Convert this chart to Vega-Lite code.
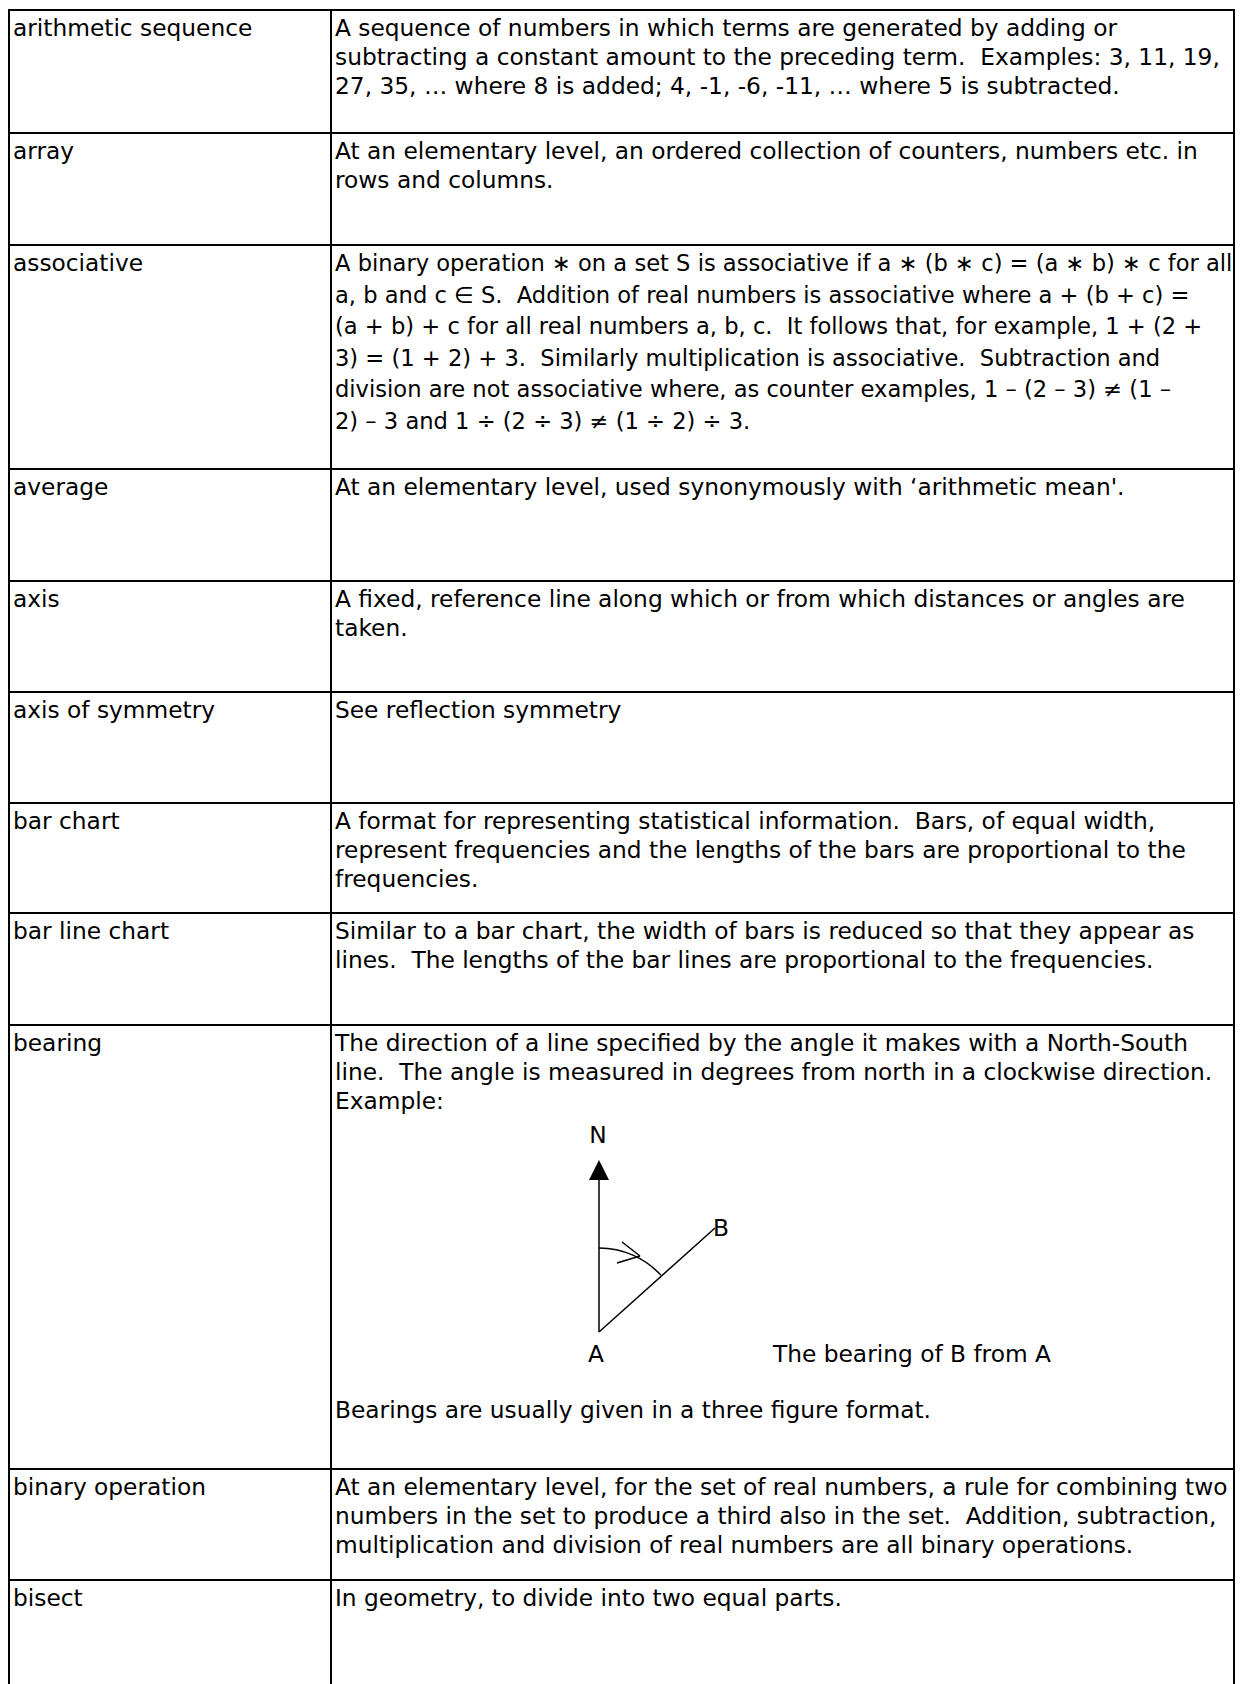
{
  "$schema": "https://vega.github.io/schema/vega-lite/v6.json",
  "width": 1242,
  "height": 1684,
  "padding": 0,
  "autosize": {"type": "none"},
  "background": "white",
  "config": {
    "view": {"stroke": null},
    "text": {"font": "DejaVu Sans", "fontSize": 23.3, "color": "black"}
  },
  "datasets": {
    "entries": [
      {"term": "arithmetic sequence", "top": 10, "definition": "A sequence of numbers in which terms are generated by adding or\nsubtracting a constant amount to the preceding term.\u00a0 Examples: 3, 11, 19,\n27, 35, … where 8 is added; 4, -1, -6, -11, … where 5 is subtracted."},
      {"term": "array", "top": 133, "definition": "At an elementary level, an ordered collection of counters, numbers etc. in\nrows and columns."},
      {"term": "associative", "top": 245, "definition": "A binary operation ∗ on a set S is associative if a ∗ (b ∗ c) = (a ∗ b) ∗ c for all\na, b and c ∈ S.\u00a0 Addition of real numbers is associative where a + (b + c) =\n(a + b) + c for all real numbers a, b, c.\u00a0 It follows that, for example, 1 + (2 +\n3) = (1 + 2) + 3.\u00a0 Similarly multiplication is associative.\u00a0 Subtraction and\ndivision are not associative where, as counter examples, 1 – (2 – 3) ≠ (1 –\n2) – 3 and 1 ÷ (2 ÷ 3) ≠ (1 ÷ 2) ÷ 3."},
      {"term": "average", "top": 469, "definition": "At an elementary level, used synonymously with ‘arithmetic mean'."},
      {"term": "axis", "top": 581, "definition": "A fixed, reference line along which or from which distances or angles are\ntaken."},
      {"term": "axis of symmetry", "top": 692, "definition": "See reflection symmetry"},
      {"term": "bar chart", "top": 803, "definition": "A format for representing statistical information.\u00a0 Bars, of equal width,\nrepresent frequencies and the lengths of the bars are proportional to the\nfrequencies."},
      {"term": "bar line chart", "top": 913, "definition": "Similar to a bar chart, the width of bars is reduced so that they appear as\nlines.\u00a0 The lengths of the bar lines are proportional to the frequencies."},
      {"term": "bearing", "top": 1025, "definition": "The direction of a line specified by the angle it makes with a North-South\nline.\u00a0 The angle is measured in degrees from north in a clockwise direction.\nExample:"},
      {"term": "binary operation", "top": 1469, "definition": "At an elementary level, for the set of real numbers, a rule for combining two\nnumbers in the set to produce a third also in the set.\u00a0 Addition, subtraction,\nmultiplication and division of real numbers are all binary operations."},
      {"term": "bisect", "top": 1580, "definition": "In geometry, to divide into two equal parts."}
    ],
    "columns": [{"x": 9}, {"x": 331}, {"x": 1234}],
    "diagramLines": [
      {"x1": 599, "y1": 1332, "x2": 599, "y2": 1178},
      {"x1": 599, "y1": 1332, "x2": 715, "y2": 1228},
      {"x1": 622, "y1": 1242, "x2": 640, "y2": 1256},
      {"x1": 617, "y1": 1263, "x2": 640, "y2": 1256}
    ],
    "diagramPoints": [{"x": 599, "y": 1332, "part": "arc"}],
    "arrowHead": [{"x": 599, "y": 1170}],
    "centerLabels": [
      {"x": 598, "y": 1143, "label": "N"},
      {"x": 596, "y": 1362, "label": "A"},
      {"x": 721, "y": 1236, "label": "B"}
    ],
    "leftLabels": [
      {"x": 773, "y": 1362, "label": "The bearing of B from A"},
      {"x": 335, "y": 1418, "label": "Bearings are usually given in a three figure format."}
    ]
  },
  "layer": [
    {
      "data": {"name": "columns"},
      "mark": {"type": "rule", "strokeWidth": 2, "color": "black"},
      "encoding": {
        "x": {"field": "x", "type": "quantitative", "scale": {"domain": [0, 1242], "range": [0, 1242], "nice": false, "zero": false}, "axis": null},
        "y": {"datum": 9, "type": "quantitative", "scale": {"domain": [0, 1684], "range": [0, 1684], "nice": false, "zero": false}, "axis": null},
        "y2": {"datum": 1684}
      }
    },
    {
      "data": {"name": "entries"},
      "mark": {"type": "rule", "strokeWidth": 2, "color": "black"},
      "encoding": {
        "x": {"datum": 8, "type": "quantitative"},
        "x2": {"datum": 1235},
        "y": {"field": "top", "type": "quantitative"}
      }
    },
    {
      "data": {"name": "entries"},
      "mark": {"type": "text", "align": "left", "baseline": "alphabetic", "dx": 4, "dy": 25.5},
      "encoding": {
        "x": {"datum": 9, "type": "quantitative"},
        "y": {"field": "top", "type": "quantitative"},
        "text": {"field": "term"}
      }
    },
    {
      "data": {"name": "entries"},
      "transform": [{"filter": "datum.term === 'associative'"}],
      "mark": {"type": "text", "align": "left", "baseline": "alphabetic", "dx": 4, "dy": 26, "lineBreak": "\n", "lineHeight": 31.6, "fontSize": 22.6},
      "encoding": {
        "x": {"datum": 331, "type": "quantitative"},
        "y": {"field": "top", "type": "quantitative"},
        "text": {"field": "definition"}
      }
    },
    {
      "data": {"name": "entries"},
      "transform": [{"filter": "datum.term !== 'associative'"}],
      "mark": {"type": "text", "align": "left", "baseline": "alphabetic", "dx": 4, "dy": 25.5, "lineBreak": "\n", "lineHeight": 29},
      "encoding": {
        "x": {"datum": 331, "type": "quantitative"},
        "y": {"field": "top", "type": "quantitative"},
        "text": {"field": "definition"}
      }
    },
    {
      "data": {"name": "diagramLines"},
      "mark": {"type": "rule", "strokeWidth": 1.5, "color": "black"},
      "encoding": {
        "x": {"field": "x1", "type": "quantitative"},
        "y": {"field": "y1", "type": "quantitative"},
        "x2": {"field": "x2"},
        "y2": {"field": "y2"}
      }
    },
    {
      "data": {"name": "diagramPoints"},
      "mark": {"type": "point", "shape": "M0,-1A1,1 0 0 1 0.7386,-0.6742", "size": 28224, "filled": false, "opacity": 1, "strokeWidth": 1.5, "color": "black"},
      "encoding": {
        "x": {"field": "x", "type": "quantitative"},
        "y": {"field": "y", "type": "quantitative"}
      }
    },
    {
      "data": {"name": "arrowHead"},
      "mark": {"type": "point", "shape": "M0,-1L1,1L-1,1Z", "size": 400, "filled": true, "opacity": 1, "strokeWidth": 0, "color": "black"},
      "encoding": {
        "x": {"field": "x", "type": "quantitative"},
        "y": {"field": "y", "type": "quantitative"}
      }
    },
    {
      "data": {"name": "centerLabels"},
      "mark": {"type": "text", "align": "center", "baseline": "alphabetic"},
      "encoding": {
        "x": {"field": "x", "type": "quantitative"},
        "y": {"field": "y", "type": "quantitative"},
        "text": {"field": "label"}
      }
    },
    {
      "data": {"name": "leftLabels"},
      "mark": {"type": "text", "align": "left", "baseline": "alphabetic"},
      "encoding": {
        "x": {"field": "x", "type": "quantitative"},
        "y": {"field": "y", "type": "quantitative"},
        "text": {"field": "label"}
      }
    }
  ]
}
